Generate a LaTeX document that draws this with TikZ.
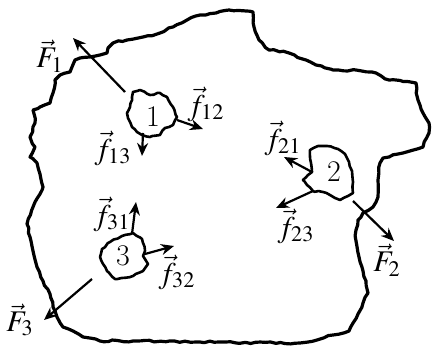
\documentclass[tikz,border=0pt]{standalone}
\usepackage{mathptmx}
\usepackage{tikz}
\usetikzlibrary{arrows.meta, calc, positioning, decorations.pathmorphing}

\begin{document}
\begin{tikzpicture}[x=0.5pt, y=-0.5pt,
    every node/.style={align=center, font=\fontsize{15}{17}\selectfont, inner sep=0.5pt},
    rough/.style={line width=1.6pt, line join=round, decorate,
      decoration={random steps, segment length=2.5pt, amplitude=0.5pt}},
    grain/.style={line width=1.3pt, line join=round, decorate,
      decoration={random steps, segment length=2pt, amplitude=0.35pt}},
    force/.style={-{Stealth[length=6.5pt, width=5.5pt]}, line width=1.1pt}]
  \useasboundingbox (0,0) rectangle (432,347);

  % outer body
  \draw[rough] (216,13) -- (229,10) -- (253,12) -- (254,27) -- (259,40) -- (269,50)
    -- (289,53) -- (306,60) -- (316,65) -- (333,70) -- (356,70) -- (376,73) -- (389,80)
    -- (416,83) -- (418,100) -- (423,113) -- (429,123) -- (429,133) -- (423,147)
    -- (403,153) -- (389,157) -- (383,158) -- (380,163) -- (378,180) -- (378,197)
    -- (373,207) -- (363,213) -- (358,220) -- (356,230) -- (356,241) -- (359,257)
    -- (363,271) -- (366,281) -- (368,293) -- (363,303) -- (358,314) -- (353,323)
    -- (349,331) -- (333,335) -- (317,340) -- (300,343) -- (200,342) -- (133,341)
    -- (100,341) -- (83,337) -- (73,331) -- (63,327) -- (57,317) -- (53,307)
    -- (50,294) -- (43,281) -- (37,267) -- (33,251) -- (30,237) -- (27,224)
    -- (33,207) -- (40,194) -- (43,187) -- (40,174) -- (37,163) -- (30,157)
    -- (35,147) -- (30,137) -- (35,123) -- (33,110) -- (40,107) -- (50,103)
    -- (53,93) -- (55,80) -- (60,75) -- (70,72) -- (72,67) -- (75,60) -- (80,58)
    -- (90,57) -- (100,55) -- (107,53) -- (108,48) -- (113,43) -- (127,40)
    -- (143,37) -- (160,33) -- (173,27) -- (187,20) -- (200,15) -- cycle;

  % particles
  \draw[grain] (133,92) -- (140,90) -- (150,95) -- (160,93) -- (167,97) -- (173,107)
    -- (177,117) -- (173,125) -- (165,128) -- (160,135) -- (150,137) -- (142,135)
    -- (137,132) -- (132,127) -- (128,118) -- (127,113) -- (130,107) -- (132,97) -- cycle;
  \draw[grain] (310,150) -- (318,146) -- (327,146) -- (338,149) -- (345,154) -- (349,162)
    -- (352,171) -- (353,182) -- (353,193) -- (348,196) -- (340,200) -- (335,198)
    -- (330,195) -- (323,192) -- (313,191) -- (307,185) -- (303,180) -- (308,175)
    -- (312,172) -- (311,163) -- (310,157) -- cycle;
  \draw[grain] (122,236) -- (133,233) -- (142,239) -- (145,251) -- (143,256) -- (148,264)
    -- (143,271) -- (133,276) -- (115,279) -- (107,271) -- (100,257) -- (102,249)
    -- (110,242) -- cycle;

  \node (n1) at (153,117) {1};
  \node (n2) at (334,172) {2};
  \node (n3) at (123,256) {3};

  % arrow ends
  \coordinate (s1) at (125,92);   \coordinate (t1) at (73,38);
  \coordinate (s12) at (177,120); \coordinate (t12) at (203,129);
  \coordinate (s13) at (143,133); \coordinate (t13) at (142,156);
  \coordinate (s21) at (312,172); \coordinate (t21) at (284,157);
  \coordinate (s23) at (313,191); \coordinate (t23) at (276,208);
  \coordinate (s2) at (353,201);  \coordinate (t2) at (394,241);
  \coordinate (s31) at (132,234); \coordinate (t31) at (136,202);
  \coordinate (s32) at (145,254); \coordinate (t32) at (174,246);
  \coordinate (s3) at (92,279);   \coordinate (t3) at (44,320);

  \draw[force] (s1) -- (t1);
  \draw[force] (s12) -- (t12);
  \draw[force] (s13) -- (t13);
  \draw[force] (s21) -- (t21);
  \draw[force] (s23) -- (t23);
  \draw[force] (s2) -- (t2);
  \draw[force] (s31) -- (t31);
  \draw[force] (s32) -- (t32);
  \draw[force] (s3) -- (t3);

  \node (lF1) at (50,56) {$\vec{F}_1$};
  \node (lf12) at (206,104) {$\vec{f}_{12}$};
  \node (lf13) at (113,148) {$\vec{f}_{13}$};
  \node (lf21) at (283,138) {$\vec{f}_{21}$};
  \node (lf23) at (296,226) {$\vec{f}_{23}$};
  \node (lF2) at (387,260) {$\vec{F}_2$};
  \node (lf31) at (112,214) {$\vec{f}_{31}$};
  \node (lf32) at (177,272) {$\vec{f}_{32}$};
  \node (lF3) at (20,320) {$\vec{F}_3$};
\end{tikzpicture}
\end{document}
